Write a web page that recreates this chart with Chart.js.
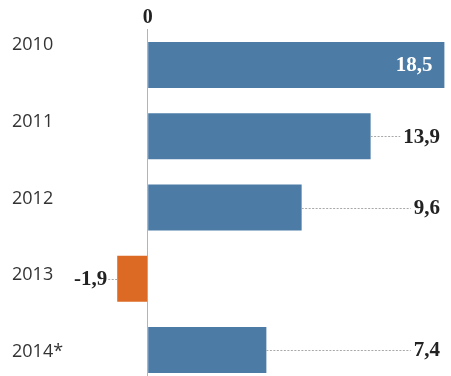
<!DOCTYPE html>
<html>
<head>
<meta charset="utf-8">
<script src="https://cdn.jsdelivr.net/npm/chart.js@4.4.1/dist/chart.umd.min.js"></script>
<style>
  html, body { margin: 0; padding: 0; background: #fff; overflow: hidden; }
  #wrap { width: 451px; height: 376px; position: relative; }
</style>
</head>
<body>
<div id="wrap"><canvas id="myChart"></canvas></div>
<script>
// values
const years = ['2010', '2011', '2012', '2013', '2014*'];
const growth = [18.5, 13.9, 9.6, -1.9, 7.4];

const blue = '#4c7ca6';
const orange = '#dc6a25';

// draws the value next to each bar, with a dotted leader line
const valueLabels = {
    id: 'valueLabels',
    afterDatasetsDraw(chart) {
        const ctx = chart.ctx;
        const area = chart.chartArea;
        const meta = chart.getDatasetMeta(0);
        ctx.save();
        ctx.font = 'bold 21px "Liberation Serif", serif';
        ctx.textBaseline = 'middle';
        meta.data.forEach((bar, i) => {
            const v = growth[i];
            const text = v.toFixed(1).replace('.', ',');
            const w = ctx.measureText(text).width;
            ctx.strokeStyle = '#a8a8a8';
            ctx.lineWidth = 1;
            ctx.setLineDash([2, 1.5]);
            if (v < 0) {
                const right = bar.x - 10;
                ctx.fillStyle = '#222';
                ctx.textAlign = 'right';
                ctx.fillText(text, right, bar.y + 1);
                ctx.beginPath();
                ctx.moveTo(right + 1, Math.round(bar.y) + 0.5);
                ctx.lineTo(bar.x, Math.round(bar.y) + 0.5);
                ctx.stroke();
            } else if (bar.x + 8 + w > area.right - 6) {
                ctx.fillStyle = '#fff';
                ctx.textAlign = 'right';
                ctx.fillText(text, bar.x - 12, bar.y + 1);
            } else {
                const right = area.right - 6;
                ctx.fillStyle = '#222';
                ctx.textAlign = 'right';
                ctx.fillText(text, right, bar.y + 1);
                ctx.beginPath();
                ctx.moveTo(bar.x, Math.round(bar.y) + 0.5);
                ctx.lineTo(right - w - 3, Math.round(bar.y) + 0.5);
                ctx.stroke();
            }
        });
        ctx.restore();
    }
};

const ctx = document.getElementById('myChart');

new Chart(ctx, {
    type: 'bar',
    data: {
        datasets: [{
            data: growth.map((v, i) => ({ x: v, y: i })),
            backgroundColor: growth.map(v => v < 0 ? orange : blue),
            borderWidth: 0,
            barPercentage: 0.645,
            categoryPercentage: 1
        }]
    },
    options: {
        indexAxis: 'y',
        responsive: true,
        maintainAspectRatio: false,
        animation: false,
        layout: { padding: { left: 12, right: 5, top: 0, bottom: 0 } },
        scales: {
            x: {
                type: 'linear',
                position: 'top',
                min: -2.1,
                max: 18.6,
                afterBuildTicks: scale => { scale.ticks = [{ value: 0 }]; },
                afterFit: scale => { scale.height = 29.4; },
                grid: { color: '#b4b4b4', lineWidth: 1, drawTicks: false },
                border: { display: false },
                ticks: {
                    padding: 0,
                    color: '#222',
                    font: { family: '"Liberation Serif", serif', size: 20, weight: 'bold' },
                    callback: v => String(v)
                }
            },
            y: {                                // bar positions
                type: 'linear',
                reverse: true,
                offset: false,
                min: -0.5,
                max: 4.365,
                afterBuildTicks: scale => { scale.ticks = years.map((y, i) => ({ value: i })); },
                display: false
            },
            yLabels: {                          // year labels on the left
                type: 'linear',
                position: 'left',
                reverse: true,
                offset: false,
                min: -0.203,
                max: 4.313,
                afterBuildTicks: scale => { scale.ticks = years.map((y, i) => ({ value: i })); },
                afterFit: scale => {
                    scale.width = 102;
                    scale.paddingTop = 0;
                    scale.paddingBottom = 0;
                },
                grid: { display: false },
                border: { display: false },
                ticks: {
                    crossAlign: 'far',
                    color: '#333',
                    font: { family: '"Open Sans", sans-serif', size: 18 },
                    callback: v => years[v]
                }
            }
        },
        plugins: {
            legend: { display: false },
            tooltip: { enabled: false }
        }
    },
    plugins: [valueLabels]
});
</script>
</body>
</html>
